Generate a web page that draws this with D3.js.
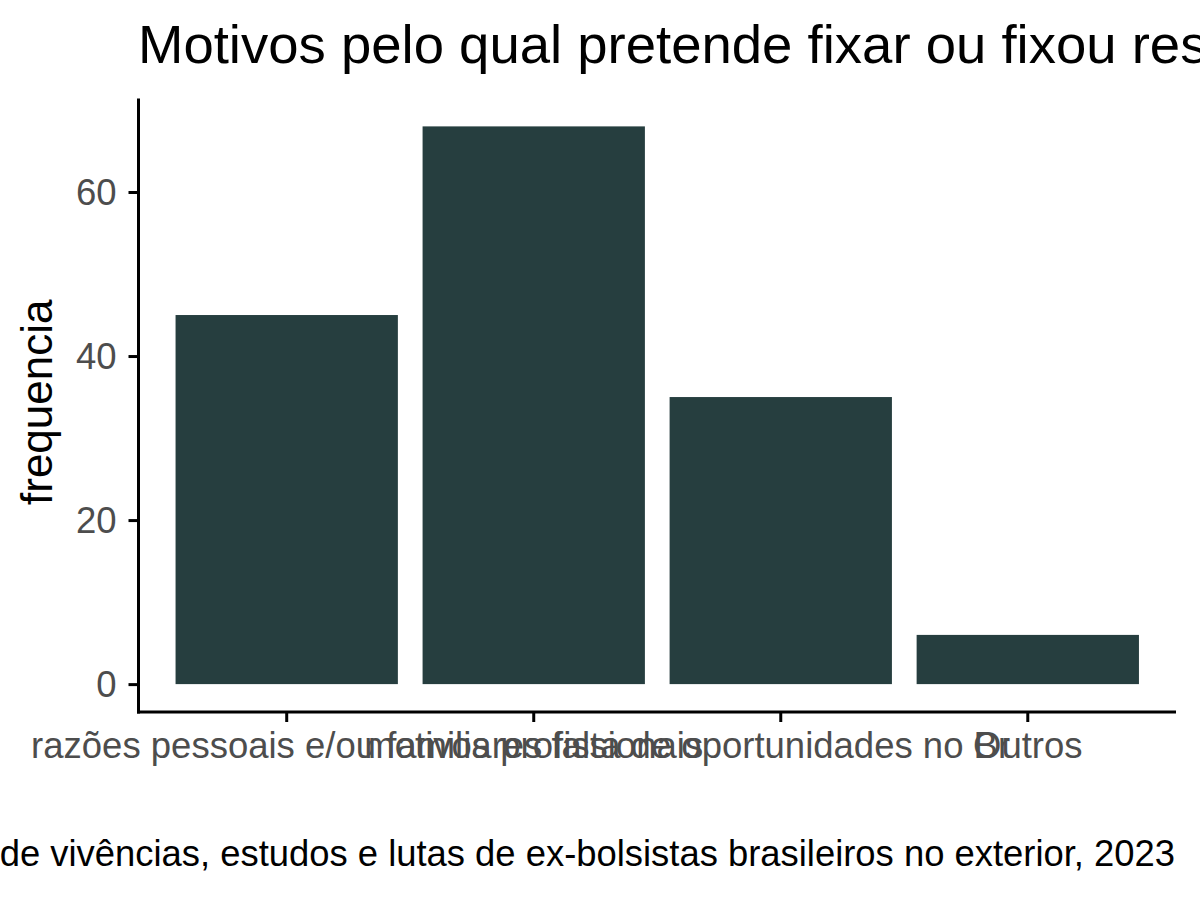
<!DOCTYPE html>
<html>
<head>
<meta charset="utf-8">
<script src="https://cdn.jsdelivr.net/npm/d3@7"></script>
<style>
  body { margin: 0; background: #fff; }
  svg { font-family: "Liberation Sans", Arial, sans-serif; display: block; }
</style>
</head>
<body>
<div id="chart"></div>
<script>
// data
var categories = ["razões pessoais e/ou familiares", "motivos profissionais", "falta de oportunidades no Br", "Outros"];
var values = [45, 68, 35, 6];
var yTicks = [0, 20, 40, 60];
var titleText = "Motivos pelo qual pretende fixar ou fixou residência no exterior";
var captionText = "Fonte: Pesquisa de vivências, estudos e lutas de ex-bolsistas brasileiros no exterior, 2023";

var w = 1200, h = 900;
// panel edges
var pLeft = 138.5, pRight = 1176, pTop = 98.5, pBottom = 712;

var svg = d3.select("#chart").append("svg")
    .attr("width", w)
    .attr("height", h);

var x = d3.scaleBand()
    .domain(categories)
    .range([pLeft, pRight])
    .paddingInner(0.1)
    .paddingOuter(0.15);

// ggplot-like 5% expansion
var yMax = d3.max(values);
var y = d3.scaleLinear()
    .domain([-yMax * 0.05, yMax * 1.05])
    .range([pBottom, pTop]);

// bars
svg.selectAll("rect.bar")
    .data(values)
    .enter().append("rect")
    .attr("class", "bar")
    .attr("x", (d, i) => x(categories[i]))
    .attr("width", x.bandwidth())
    .attr("y", d => y(d))
    .attr("height", d => y(0) - y(d))
    .attr("fill", "#263e3f");

// y axis
var yAxis = svg.append("g")
    .attr("transform", "translate(" + pLeft + ",0)")
    .call(d3.axisLeft(y).tickValues(yTicks).tickSize(10).tickPadding(12).tickSizeOuter(0));
yAxis.select(".domain").attr("stroke", "#000").attr("stroke-width", 3)
    .attr("d", "M0," + (pBottom + 1.5) + "V" + pTop);
yAxis.selectAll(".tick line").attr("stroke", "#000").attr("stroke-width", 3);
yAxis.selectAll(".tick text").attr("fill", "#4d4d4d").style("font-size", "36.5px")
    .attr("dy", "0.35em");

// x axis
var xAxis = svg.append("g")
    .attr("transform", "translate(0," + pBottom + ")")
    .call(d3.axisBottom(x).tickSize(10).tickSizeOuter(0));
xAxis.select(".domain").attr("stroke", "#000").attr("stroke-width", 3)
    .attr("d", "M" + (pLeft - 1.5) + ",0H" + pRight);
xAxis.selectAll(".tick line").attr("stroke", "#000").attr("stroke-width", 3);
xAxis.selectAll(".tick text").attr("fill", "#4d4d4d").style("font-size", "36.5px")
    .attr("y", 46).attr("dy", 0);

// y label
svg.append("text")
    .attr("transform", "translate(52," + ((pTop + pBottom) / 2 - 3) + ") rotate(-90)")
    .attr("text-anchor", "middle")
    .style("font-size", "44px")
    .attr("fill", "#000")
    .text("frequencia");

// title
svg.append("text")
    .attr("x", 138)
    .attr("y", 63)
    .style("font-size", "54.5px")
    .attr("fill", "#000")
    .text(titleText);

// caption
svg.append("text")
    .attr("x", 1175)
    .attr("y", 866)
    .attr("text-anchor", "end")
    .style("font-size", "36.4px")
    .attr("fill", "#000")
    .text(captionText);
</script>
</body>
</html>
